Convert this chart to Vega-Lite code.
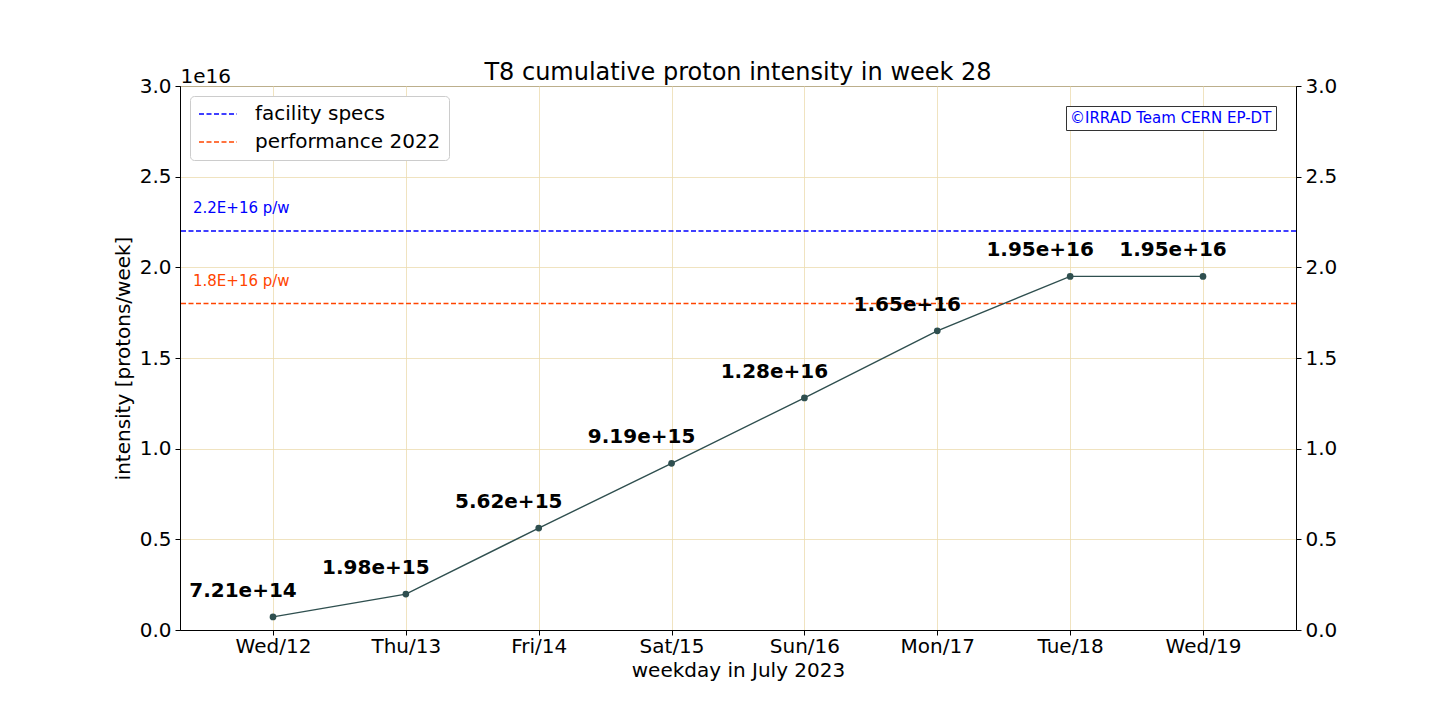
{
  "$schema": "https://vega.github.io/schema/vega-lite/v6.json",
  "autosize": {"type": "none"},
  "padding": {"left": 180, "top": 86, "right": 144, "bottom": 90},
  "width": 1116,
  "height": 544,
  "background": "white",
  "title": {
    "text": "T8 cumulative proton intensity in week 28",
    "fontSize": 24,
    "fontWeight": "normal",
    "font": "DejaVu Sans",
    "color": "black",
    "frame": "group",
    "offset": -19
  },
  "datasets": {
    "main": [
      {"day": "Wed/12", "intensity": 7.21e14},
      {"day": "Thu/13", "intensity": 1.98e15},
      {"day": "Fri/14", "intensity": 5.62e15},
      {"day": "Sat/15", "intensity": 9.19e15},
      {"day": "Sun/16", "intensity": 1.28e16},
      {"day": "Mon/17", "intensity": 1.65e16},
      {"day": "Tue/18", "intensity": 1.95e16},
      {"day": "Wed/19", "intensity": 1.95e16}
    ],
    "refs": [
      {"name": "facility specs", "value": 2.2e16, "label": "2.2E+16 p/w"},
      {"name": "performance 2022", "value": 1.8e16, "label": "1.8E+16 p/w"}
    ],
    "credit": [
      {"credit": "©IRRAD Team CERN EP-DT"}
    ]
  },
  "layer": [
    {
      "data": {"name": "refs"},
      "mark": {"type": "rule", "strokeDash": [5, 2.5], "strokeWidth": 1.5},
      "encoding": {
        "y": {
          "field": "value", "type": "quantitative",
          "scale": {"domain": [0, 3e16], "nice": false, "zero": true},
          "axis": {
            "orient": "right",
            "grid": false,
            "values": [0, 5e15, 1e16, 1.5e16, 2e16, 2.5e16, 3e16],
            "labelExpr": "format(datum.value/1e16, '.1f')",
            "title": "1e16",
            "titleAngle": 0,
            "titleX": -1116,
            "titleY": -10,
            "titleAlign": "left",
            "titleBaseline": "middle",
            "labelPadding": 4
          }
        },
        "color": {
          "field": "name", "type": "nominal",
          "scale": {"domain": ["facility specs", "performance 2022"], "range": ["blue", "orangered"]},
          "legend": {
            "title": null,
            "orient": "top-left",
            "offset": 10,
            "padding": 8,
            "strokeColor": "#cccccc",
            "fillColor": "white",
            "cornerRadius": 4,
            "labelFontSize": 20,
            "labelColor": "black",
            "symbolType": "stroke",
            "symbolSize": 1444,
            "symbolDash": [5, 2.5],
            "symbolStrokeWidth": 1.5,
            "clipHeight": 20,
            "labelOffset": 17,
            "rowPadding": 8,
            "labelLimit": 400
          }
        }
      }
    },
    {
      "data": {"name": "refs"},
      "mark": {"type": "text", "align": "left", "baseline": "middle", "dx": -80, "dy": -23, "fontSize": 15},
      "encoding": {
        "x": {"datum": "Wed/12", "type": "nominal"},
        "y": {"field": "value", "type": "quantitative", "axis": null},
        "text": {"field": "label"},
        "color": {"field": "name", "type": "nominal", "legend": null}
      }
    },
    {
      "data": {"name": "main"},
      "mark": {"type": "line", "color": "#2f4f4f", "strokeWidth": 1.4, "point": {"filled": true, "size": 45, "color": "#2f4f4f", "opacity": 1}},
      "encoding": {
        "x": {
          "field": "day", "type": "nominal", "sort": null,
          "scale": {"type": "point", "padding": 0.7},
          "axis": {"title": "weekday in July 2023", "labelAngle": 0, "labelAlign": "center", "labelBaseline": "top", "grid": true, "labelPadding": 1, "titlePadding": 4}
        },
        "y": {
          "field": "intensity", "type": "quantitative",
          "axis": {
            "orient": "left",
            "grid": true,
            "values": [0, 5e15, 1e16, 1.5e16, 2e16, 2.5e16, 3e16],
            "labelExpr": "format(datum.value/1e16, '.1f')",
            "title": "intensity [protons/week]",
            "titlePadding": 6,
            "labelPadding": 4
          }
        }
      }
    },
    {
      "data": {"name": "main"},
      "mark": {"type": "text", "fontWeight": "bold", "fontSize": 20, "dx": -30, "dy": -26, "baseline": "middle", "align": "center", "color": "black"},
      "encoding": {
        "x": {"field": "day", "type": "nominal", "sort": null},
        "y": {"field": "intensity", "type": "quantitative", "axis": null},
        "text": {"field": "intensity", "format": ".2e"}
      }
    },
    {
      "data": {"name": "credit"},
      "mark": {"type": "point", "opacity": 0, "size": 1},
      "encoding": {
        "shape": {
          "field": "credit", "type": "nominal",
          "legend": {
            "title": null,
            "orient": "top-right",
            "offset": 20,
            "padding": 4,
            "strokeColor": "#333333",
            "fillColor": "white",
            "cornerRadius": 0,
            "labelFontSize": 15,
            "labelColor": "blue",
            "symbolSize": 1,
            "symbolOpacity": 0,
            "symbolStrokeWidth": 0,
            "labelOffset": -15,
            "labelLimit": 400
          }
        }
      }
    }
  ],
  "resolve": {"axis": {"y": "independent"}},
  "config": {
    "font": "DejaVu Sans",
    "view": {"stroke": "black", "strokeWidth": 1},
    "axis": {
      "labelFontSize": 20,
      "titleFontSize": 20,
      "titleFontWeight": "normal",
      "labelColor": "black",
      "titleColor": "black",
      "domainColor": "black",
      "tickColor": "black",
      "tickSize": 5,
      "gridColor": "#ecdcb0",
      "gridWidth": 0.8
    },
    "legend": {"labelFont": "DejaVu Sans"}
  }
}
